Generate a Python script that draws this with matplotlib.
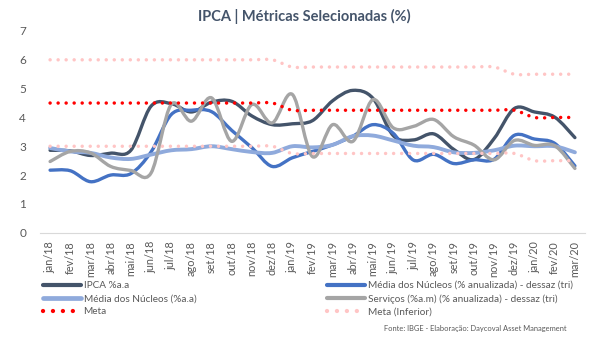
import numpy as np
import matplotlib
matplotlib.use("Agg")
import matplotlib.pyplot as plt
from matplotlib.path import Path
from matplotlib.patches import PathPatch
from matplotlib.lines import Line2D

plt.rcParams['font.family'] = ['Lato', 'DejaVu Sans']

# Monthly labels jan/18 .. mar/20
meses = ['jan', 'fev', 'mar', 'abr', 'mai', 'jun', 'jul', 'ago', 'set', 'out', 'nov', 'dez']
labels = [f'{m}/{a}' for a in ('18', '19') for m in meses] + ['jan/20', 'fev/20', 'mar/20']

ipca = [2.86, 2.84, 2.68, 2.76, 2.86, 4.39, 4.48, 4.19, 4.53, 4.56, 4.05, 3.75,
        3.78, 3.89, 4.58, 4.94, 4.66, 3.37, 3.22, 3.43, 2.89, 2.54, 3.27, 4.31,
        4.19, 4.01, 3.30]
nucleos_dessaz = [2.17, 2.15, 1.77, 2.00, 2.05, 2.80, 4.10, 4.25, 4.20, 3.55, 2.95, 2.30,
                  2.60, 2.82, 3.05, 3.35, 3.75, 3.45, 2.52, 2.72, 2.40, 2.53, 2.55, 3.38,
                  3.25, 3.10, 2.32]
nucleos_aa = [2.94, 2.82, 2.77, 2.61, 2.56, 2.71, 2.86, 2.90, 3.00, 2.90, 2.80, 2.77,
              3.00, 2.96, 3.05, 3.35, 3.37, 3.20, 3.02, 2.97, 2.79, 2.77, 2.86, 3.02,
              3.00, 3.00, 2.79]
servicos = [2.47, 2.82, 2.77, 2.30, 2.16, 2.07, 4.45, 3.87, 4.68, 3.17, 4.45, 3.81,
            4.80, 2.64, 3.75, 3.17, 4.62, 3.64, 3.69, 3.93, 3.33, 3.04, 2.53, 3.20,
            3.03, 3.02, 2.23]
meta = [4.5] * 12 + [4.25] * 12 + [4.0] * 3
meta_inf = [3.0] * 12 + [2.75] * 12 + [2.5] * 3
meta_sup = [6.0] * 12 + [5.75] * 11 + [5.5] * 4


def smooth_path(x, y):
    # cubic bezier through every point, excel-style smoothing
    pts = np.column_stack([x, y]).astype(float)
    n = len(pts)
    verts = [pts[0]]
    codes = [Path.MOVETO]
    for i in range(n - 1):
        p0 = pts[max(i - 1, 0)]
        p1 = pts[i]
        p2 = pts[i + 1]
        p3 = pts[min(i + 2, n - 1)]
        verts += [p1 + (p2 - p0) / 6, p2 - (p3 - p1) / 6, p2]
        codes += [Path.CURVE4] * 3
    return Path(verts, codes)


dots = (0, (0.01, 2.3))
series = [
    (ipca, dict(color='#44546A', lw=2.4, ls='-'), 'IPCA %a.a'),
    (nucleos_dessaz, dict(color='#4472C4', lw=2.4, ls='-'), 'Média dos Núcleos (% anualizada) - dessaz (tri)'),
    (nucleos_aa, dict(color='#8FAADC', lw=2.8, ls='-'), 'Média dos Núcleos (%a.a)'),
    (servicos, dict(color='#A5A5A5', lw=2.4, ls='-'), 'Serviços (%a.m) (% anualizada) - dessaz (tri)'),
    (meta, dict(color='#FF0000', lw=2.5, ls=dots), 'Meta'),
    (meta_inf, dict(color='#FFC5C5', lw=2.5, ls=dots), 'Meta (Inferior)'),
    (meta_sup, dict(color='#FFC5C5', lw=2.5, ls=dots), None),
]

fig = plt.figure(figsize=(5.92, 3.42), dpi=100)
ax = fig.add_axes([40 / 592, 1 - 232.7 / 342, 545 / 592, 201.7 / 342])
x = np.arange(len(labels))

handles = {}
for z, (vals, st, name) in enumerate(series):
    patch = PathPatch(smooth_path(x, vals), fill=False, edgecolor=st['color'],
                      linewidth=st['lw'], linestyle=st['ls'], capstyle='round',
                      joinstyle='round', zorder=2 + z)
    ax.add_patch(patch)
    if name:
        handles[name] = Line2D([], [], color=st['color'], lw=st['lw'] + 0.6,
                               ls=st['ls'], dash_capstyle='round', solid_capstyle='round')

ax.set_xlim(-0.5, len(labels) - 0.5)
ax.set_ylim(0, 7)
ax.set_xticks(x)
ax.set_xticklabels(labels, rotation=90, fontsize=7.8, color='#595959')
ax.set_yticks(range(8))
ax.tick_params(axis='y', labelsize=8.5, labelcolor='#595959', length=0, pad=10)
ax.tick_params(axis='x', length=0, pad=6)
for s in ('top', 'right', 'left'):
    ax.spines[s].set_visible(False)
ax.spines['bottom'].set_color('#D9D9D9')

fig.text(304 / 592, 1 - 16 / 342, 'IPCA | Métricas Selecionadas (%)', ha='center', va='center',
         fontsize=10.5, fontweight='bold', color='#44546A')

left_names = ['IPCA %a.a', 'Média dos Núcleos (%a.a)', 'Meta']
right_names = ['Média dos Núcleos (% anualizada) - dessaz (tri)',
               'Serviços (%a.m) (% anualizada) - dessaz (tri)', 'Meta (Inferior)']
leg_kw = dict(frameon=False, fontsize=7.2, handlelength=3.8, handletextpad=0.25,
              labelspacing=0.42, borderpad=0, borderaxespad=0, labelcolor='#595959')
leg1 = fig.legend([handles[n] for n in left_names], left_names, loc='upper left',
                  bbox_to_anchor=(43 / 592, 1 - 281 / 342), **leg_kw)
leg2 = fig.legend([handles[n] for n in right_names], right_names, loc='upper left',
                  bbox_to_anchor=(327 / 592, 1 - 281 / 342), **leg_kw)

fig.text(567 / 592, 1 - 329 / 342, 'Fonte: IBGE - Elaboração: Daycoval Asset Management',
         ha='right', va='center', fontsize=5.4, color='#595959')

fig.savefig('out.png', dpi=100)
